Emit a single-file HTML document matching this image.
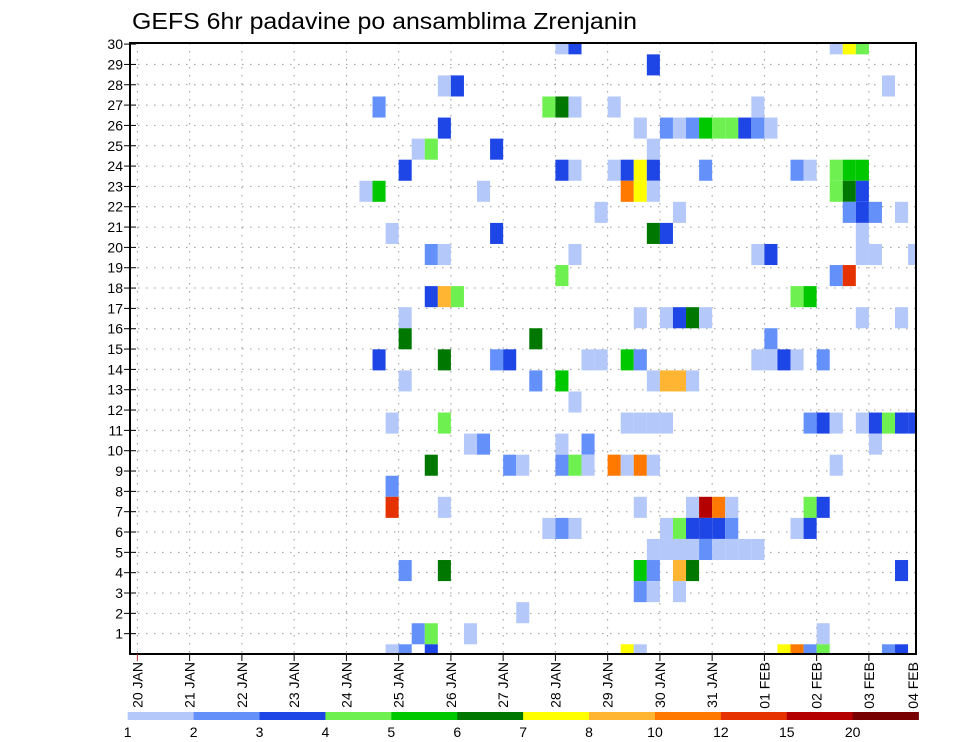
<!DOCTYPE html>
<html><head><meta charset="utf-8"><style>
html,body{margin:0;padding:0;background:#fff;}
svg{display:block;font-family:"Liberation Sans",sans-serif;}
</style></head><body>
<svg id="chart" width="960" height="742" viewBox="0 0 960 742" xmlns="http://www.w3.org/2000/svg">
<rect width="960" height="742" fill="#fff"/>
<text x="132" y="29" font-size="23" textLength="505" lengthAdjust="spacingAndGlyphs" fill="#000">GEFS 6hr padavine po ansamblima Zrenjanin</text>
<g id="grid"></g>
<g id="cells"></g>
<rect x="130" y="43" width="786" height="611" fill="none" stroke="#000" stroke-width="2"/>
<g id="yaxis"></g>
<g id="xaxis"></g>
<g id="legend"></g>
</svg>
<script>
// data arrays
const dayLabels = ["20 JAN","21 JAN","22 JAN","23 JAN","24 JAN","25 JAN","26 JAN","27 JAN","28 JAN","29 JAN","30 JAN","31 JAN","01 FEB","02 FEB","03 FEB","04 FEB"];
const yTicks = [1,2,3,4,5,6,7,8,9,10,11,12,13,14,15,16,17,18,19,20,21,22,23,24,25,26,27,28,29,30];
const legendLabels = ["1","2","3","4","5","6","7","8","10","12","15","20"];
const classColors = ["#b4c8fa","#6490fa","#1e46e6","#6ef050","#00c800","#007800","#ffff00","#ffb432","#ff7800","#e63200","#b40000","#780000"];
// cells: member (1..30), 6-hr step index from 20 JAN 00Z, precipitation class index
const cellMember = [
30,30,30,30,30, 29, 28,28,28, 27,27,27,27,27,27,
26,26,26,26,26,26,26,26,26,26,26, 25,25,25,25,
24,24,24,24,24,24,24,24,24,24,24,24,24,
23,23,23,23,23,23,23,23,23, 22,22,22,22,22,22,
21,21,21,21,21, 20,20,20,20,20,20,20,20, 19,19,19,
18,18,18,18,18, 17,17,17,17,17,17,17,17, 16,16,16,
15,15,15,15,15,15,15,15,15,15,15,15,15,
14,14,14,14,14,14,14, 13,
12,12,12,12,12,12,12,12,12,12,12,12,12,12,
11,11,11,11,11,
10,10,10,10,10,10,10,10,10,10,10, 9,
8,8,8,8,8,8,8,8,8,
7,7,7,7,7,7,7,7,7,7,7,
6,6,6,6,6,6,6,6,6,
5,5,5,5,5,5,5, 4,4,4, 3, 2,2,2,2,
1,1,1,1,1,1,1,1,1,1,1];
const cellStep = [
32,33,53,54,55, 39, 23,24,57, 18,31,32,33,36,47,
23,38,40,41,42,43,44,45,46,47,48, 21,22,27,39,
20,32,33,36,37,38,39,43,50,51,53,54,55,
17,18,26,37,38,39,53,54,55, 35,41,54,55,56,58,
19,27,39,40,55, 22,23,33,47,48,55,56,59, 32,53,54,
22,23,24,50,51, 20,38,40,41,42,43,55,58, 20,30,48,
18,23,27,28,34,35,37,38,47,48,49,50,52,
20,30,32,39,40,41,42, 33,
19,23,37,38,39,40,51,52,53,55,56,57,58,59,
25,26,32,34,56,
22,28,29,32,33,34,36,37,38,39,53, 19,
19,23,38,42,43,44,45,51,52,
31,32,33,40,41,42,43,44,45,50,51,
39,40,41,42,43,44,45,46,47,
20,23,38,39,41,42,58, 38,39,41, 29, 21,22,25,52,
19,20,22,37,38,49,50,51,52,57,58];
const cellClass = [
0,2,0,6,3, 2, 0,2,0, 1,3,5,0,0,0,
2,0,1,0,1,4,3,3,2,1,0, 0,3,2,0,
2,2,0,0,2,6,2,1,1,0,3,4,4,
0,4,0,8,6,0,3,5,2, 0,0,1,2,1,0,
0,2,5,2,0, 1,0,0,0,2,0,0,0, 3,1,9,
2,7,3,3,4, 0,0,0,2,5,0,0,0, 5,5,1,
2,5,1,2,0,0,4,1,0,0,2,0,1,
0,1,4,0,7,7,0, 0,
0,3,0,0,0,0,1,2,0,0,2,3,2,2,
0,1,0,1,0,
5,1,0,1,3,0,8,0,8,0,0, 1,
9,0,0,0,10,8,0,3,2,
0,1,0,0,3,2,2,2,1,0,2,
0,0,0,0,1,0,0,0,0,
1,5,4,1,7,5,2, 1,0,0, 0, 1,3,0,0,
0,1,2,6,0,6,8,1,3,1,2];

const NS="http://www.w3.org/2000/svg";
const PL=130, PR=916, PT=43, PB=654;
const DAY0=137.4, DAYW=52.25, STEPW=DAYW/4;
function xDay(d){return DAY0+d*DAYW;}
function xStep(k){return DAY0+k*STEPW;}
function yTick(r){return PB-r*20.33;}
const CELLH=21.07;
function yMemberTop(m){return 644.3-(m-1)*CELLH;}
function mk(tag,attrs,parent){const e=document.createElementNS(NS,tag);for(const a in attrs)e.setAttribute(a,attrs[a]);parent.appendChild(e);return e;}

const grid=document.getElementById('grid');
yTicks.forEach(r=>{
  if(r>=30)return;
  const l=mk('line',{x1:PL,x2:PR,y1:yTick(r),y2:yTick(r),stroke:'#999','stroke-width':1,'stroke-dasharray':'1.5 6.5'},grid);
  
  
});
dayLabels.forEach((s,d)=>{
  const x=xDay(d); if(x>=PR-2)return;
  const l=mk('line',{x1:x,x2:x,y1:PT,y2:PB,stroke:'#999','stroke-width':1,'stroke-dasharray':'1.5 6.5'},grid);
  
  
});

const cells=document.getElementById('cells');
for(let i=0;i<cellMember.length;i++){
  let x0=xStep(cellStep[i]), x1=x0+STEPW;
  let y0=yMemberTop(cellMember[i]), y1=y0+CELLH;
  x0=Math.max(x0,PL); x1=Math.min(x1,PR); y0=Math.max(y0,PT); y1=Math.min(y1,PB);
  const r=mk('rect',{x:x0.toFixed(2),y:y0.toFixed(2),width:(x1-x0).toFixed(2),height:(y1-y0).toFixed(2),fill:classColors[cellClass[i]]},cells);
  
  
}

const ya=document.getElementById('yaxis');
yTicks.forEach(r=>{
  const y=yTick(r);
  const t=mk('line',{x1:124,x2:136,y1:y,y2:y,stroke:'#000','stroke-width':1},ya);
  
  
  const tx=mk('text',{x:123,y:y+5,'font-size':14,'text-anchor':'end',fill:'#000'},ya);
  tx.textContent=r;
  
  
});

const xa=document.getElementById('xaxis');
dayLabels.forEach((s,d)=>{
  let x=xDay(d);
  if(d<15){
    const t=mk('line',{x1:x,x2:x,y1:PB,y2:PB+7,stroke:d===0?'#c03030':'#000','stroke-width':1},xa);
    
    
  } else x=913;
  const tx=mk('text',{x:0,y:0,'font-size':14,'text-anchor':'end',fill:'#000',transform:`translate(${x+5},662) rotate(-90)`},xa);
  tx.textContent=s;
  
  
});

const lg=document.getElementById('legend');
const LX0=127.7, LX1=918.6, LW=(LX1-LX0)/classColors.length;
classColors.forEach((c,i)=>{
  const r=mk('rect',{x:LX0+i*LW,y:712,width:LW+0.3,height:8,fill:c},lg);
  
  
});
legendLabels.forEach((s,i)=>{
  const tx=mk('text',{x:LX0+i*LW,y:737,'font-size':14,'text-anchor':'middle',fill:'#000'},lg);
  tx.textContent=s;
  
  
});
</script>
</body></html>
